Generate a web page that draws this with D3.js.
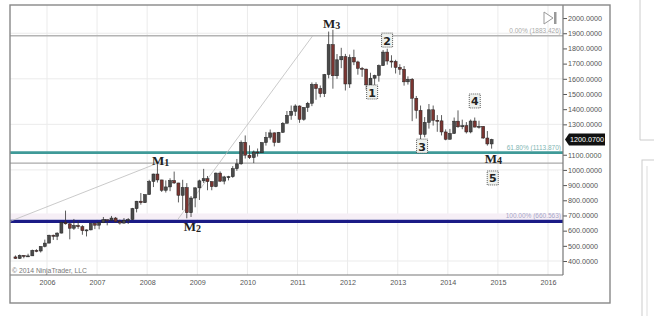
<!DOCTYPE html>
<html>
<head>
<meta charset="utf-8">
<script src="https://cdn.jsdelivr.net/npm/d3@7"></script>
<style>
  body { margin: 0; background: #fff; }
  svg { display: block; }
</style>
</head>
<body>
<svg width="654" height="316"></svg>
<script>
// monthly OHLC [open, high, low, close]
var gold2005 = [[427,437,414,417],[417,443,414,437],[437,439,418,430],[430,448,427,434],[434,475,433,470],[470,478,458,466],[466,497,456,496],[496,541,490,518]];
var gold2006 = [[518,573,517,570],[570,574,539,563],[563,589,538,584],[584,654,582,654],[654,732,640,645],[645,650,543,616],[616,677,605,634],[634,664,612,626],[626,636,573,600],[600,608,562,605],[605,649,602,648],[648,652,610,636]];
var gold2007 = [[636,655,609,652],[652,690,650,672],[672,672,635,669],[669,697,665,683],[683,690,653,659],[659,673,640,650],[650,683,646,669],[669,683,644,673],[673,750,671,745],[745,796,720,794],[794,848,771,784],[784,838,782,838]];
var gold2008 = [[838,935,836,924],[924,975,887,973],[973,1033,917,934],[934,935,855,866],[866,931,851,888],[888,945,860,930],[930,989,908,914],[914,915,786,833],[833,935,735,884],[884,913,681,718],[718,828,690,815],[815,885,754,882]];
var gold2009 = [[882,936,802,928],[928,1007,914,942],[942,960,866,923],[923,925,866,890],[890,983,886,979],[979,990,920,926],[926,961,905,954],[954,961,931,955],[955,1025,948,1008],[1008,1072,994,1040],[1040,1194,1034,1182],[1182,1227,1075,1097]];
var gold2010 = [[1097,1162,1072,1081],[1081,1128,1045,1118],[1118,1141,1088,1113],[1113,1182,1112,1180],[1180,1250,1160,1215],[1215,1266,1200,1244],[1244,1247,1155,1181],[1181,1250,1180,1248],[1248,1315,1243,1307],[1307,1388,1310,1359],[1359,1424,1330,1386],[1386,1432,1355,1421]];
var gold2011 = [[1421,1425,1310,1333],[1333,1414,1324,1411],[1411,1448,1382,1439],[1439,1576,1420,1563],[1563,1577,1462,1536],[1536,1556,1478,1502],[1502,1632,1480,1628],[1628,1911,1603,1825],[1825,1923,1535,1620],[1620,1763,1600,1725],[1725,1804,1670,1746],[1746,1764,1523,1566]];
var gold2012 = [[1566,1760,1540,1740],[1740,1792,1690,1711],[1711,1719,1627,1669],[1669,1678,1613,1664],[1664,1666,1527,1560],[1560,1640,1555,1604],[1604,1627,1560,1622],[1622,1694,1581,1687],[1687,1790,1685,1776],[1776,1798,1693,1717],[1717,1755,1673,1714],[1714,1725,1635,1675]];
var gold2013 = [[1675,1696,1626,1663],[1663,1684,1555,1580],[1580,1616,1562,1597],[1597,1605,1321,1472],[1472,1487,1338,1392],[1392,1424,1200,1234],[1234,1348,1215,1313],[1313,1434,1272,1396],[1396,1424,1292,1327],[1327,1361,1251,1323],[1323,1361,1227,1250],[1250,1267,1195,1202]];
var gold2014 = [[1202,1270,1200,1240],[1240,1345,1237,1321],[1321,1392,1277,1284],[1284,1331,1268,1291],[1291,1315,1240,1250],[1250,1332,1241,1322],[1322,1345,1280,1282],[1282,1324,1272,1287],[1287,1288,1205,1210],[1210,1256,1160,1171],[1171,1205,1140,1200.07]];
var firstMonth = "2005-05-01";

// 1200.0000 sits under the last-price marker, so it is not labelled
var yTicks = [2000, 1900, 1800, 1700, 1600, 1500, 1400, 1300, 1100, 1000, 900, 800, 700, 600, 500, 400];
var gridValues = [1900, 1600, 1300, 1000, 700, 400];
var xYears = [2006, 2007, 2008, 2009, 2010, 2011, 2012, 2013, 2014, 2015, 2016];
var lastPrice = 1200.07;

// fibonacci levels + the extra horizontal line
var fibLabels = ["0.00% (1883.426)", "61.80% (1113.870)", "100.00% (660.563)"];
var fibValues = [1883.426, 1113.870, 660.563];
var extraLine = 1045;

// thin drawing lines [date, price] -> [date, price]
var trendLines = [
    [["2005-04-05", 660.563], ["2008-02-20", 1035]],
    [["2008-08-10", 672], ["2011-04-22", 1883.426]]
];

// M labels [text, sub, date, price]
var mLabels = [
    ["M", "1", "2008-02-05", 1032],
    ["M", "2", "2008-09-24", 598],
    ["M", "3", "2011-07-05", 1934],
    ["M", "4", "2014-09-27", 1045]
];
// wave counts [label, date, price]
var waves = [
    ["1", "2012-06-28", 1513],
    ["2", "2012-10-15", 1855],
    ["3", "2013-06-27", 1157],
    ["4", "2014-07-16", 1454],
    ["5", "2014-11-24", 947]
];

var svg = d3.select("svg");
var parse = d3.timeParse("%Y-%m-%d");
var plot = { left: 10, right: 563, top: 5, bottom: 275 };

var candles = [].concat(gold2005, gold2006, gold2007, gold2008, gold2009, gold2010, gold2011, gold2012, gold2013, gold2014);
var months = d3.timeMonth.range(parse(firstMonth), d3.timeMonth.offset(parse(firstMonth), candles.length));
var data = candles.map(function (c, i) {
    return { date: d3.timeDay.offset(months[i], 15), open: c[0], high: c[1], low: c[2], close: c[3] };
});

var x = d3.scaleTime()
    .domain([new Date(2006, 0, 1), new Date(2016, 0, 1)])
    .range([47, 548]);
var y = d3.scaleLinear()
    .domain([308, 2086])
    .range([plot.bottom, plot.top]);

// side panels on the right edge
svg.append("path").attr("d", "M640,0V140H654").attr("fill", "none").attr("stroke", "#ccc");
svg.append("rect").attr("x", 642).attr("y", 160).attr("width", 20).attr("height", 170)
    .attr("fill", "none").attr("stroke", "#ccc");
svg.append("line").attr("x1", 647).attr("x2", 647).attr("y1", 166).attr("y2", 316).attr("stroke", "#ddd");

// grid
var grid = svg.append("g");
grid.selectAll(".vg").data(xYears).enter().append("line")
    .attr("x1", function (d) { return x(new Date(d, 0, 1)); })
    .attr("x2", function (d) { return x(new Date(d, 0, 1)); })
    .attr("y1", plot.top).attr("y2", plot.bottom)
    .attr("stroke", "#ebebeb");
grid.selectAll(".hg").data(gridValues).enter().append("line")
    .attr("x1", plot.left).attr("x2", plot.right)
    .attr("y1", function (d) { return y(d); })
    .attr("y2", function (d) { return y(d); })
    .attr("stroke", "#ebebeb");

// faint band above the 100% line
svg.append("rect").attr("x", plot.left).attr("width", plot.right - plot.left)
    .attr("y", y(fibValues[2]) - 8).attr("height", 6)
    .attr("fill", "#f6eff6");

// horizontal levels
svg.append("line").attr("x1", plot.left).attr("x2", plot.right)
    .attr("y1", y(extraLine)).attr("y2", y(extraLine))
    .attr("stroke", "#aaa").attr("stroke-width", 1.2);
svg.append("line").attr("x1", plot.left).attr("x2", plot.right)
    .attr("y1", y(fibValues[0])).attr("y2", y(fibValues[0]))
    .attr("stroke", "#b4b4b4").attr("stroke-width", 1.3);
svg.append("line").attr("x1", plot.left).attr("x2", plot.right)
    .attr("y1", y(fibValues[1])).attr("y2", y(fibValues[1]))
    .attr("stroke", "#3f9a98").attr("stroke-width", 2.6);
svg.append("line").attr("x1", plot.left).attr("x2", plot.right)
    .attr("y1", y(fibValues[2])).attr("y2", y(fibValues[2]))
    .attr("stroke", "#1b1b86").attr("stroke-width", 3.2);

var fibColors = ["#aaa", "#7fb6b4", "#a6a6c8"];
svg.selectAll(".fibtxt").data(fibLabels).enter().append("text")
    .attr("x", plot.right - 2)
    .attr("y", function (d, i) { return y(fibValues[i]) - 3; })
    .attr("text-anchor", "end")
    .attr("font-family", "Liberation Sans, Arial, sans-serif")
    .attr("font-size", 6.5)
    .attr("fill", function (d, i) { return fibColors[i]; })
    .text(function (d) { return d; });

// drawing lines
svg.selectAll(".trend").data(trendLines).enter().append("line")
    .attr("x1", function (d) { return x(parse(d[0][0])); })
    .attr("y1", function (d) { return y(d[0][1]); })
    .attr("x2", function (d) { return x(parse(d[1][0])); })
    .attr("y2", function (d) { return y(d[1][1]); })
    .attr("stroke", "#bdbdbd").attr("stroke-width", 0.8);

// candles
var bw = 3;
var cg = svg.append("g");
cg.selectAll(".wick").data(data).enter().append("line")
    .attr("x1", function (d) { return x(d.date); })
    .attr("x2", function (d) { return x(d.date); })
    .attr("y1", function (d) { return y(d.high); })
    .attr("y2", function (d) { return y(d.low); })
    .attr("stroke", "#333").attr("stroke-width", 0.8);
cg.selectAll(".body").data(data).enter().append("rect")
    .attr("x", function (d) { return x(d.date) - bw / 2; })
    .attr("width", bw)
    .attr("y", function (d) { return y(Math.max(d.open, d.close)); })
    .attr("height", function (d) { return Math.max(1, Math.abs(y(d.open) - y(d.close))); })
    .attr("fill", function (d) { return d.close >= d.open ? "#4a4a4a" : "#7a3430"; })
    .attr("stroke", "#222").attr("stroke-width", 0.5);

// M labels
var mg = svg.selectAll(".mlab").data(mLabels).enter().append("text")
    .attr("x", function (d) { return x(parse(d[2])); })
    .attr("y", function (d) { return y(d[3]); })
    .attr("font-family", "Liberation Serif, Times New Roman, serif")
    .attr("font-weight", "bold")
    .attr("font-size", 13)
    .attr("fill", "#222");
mg.append("tspan").text(function (d) { return d[0]; });
mg.append("tspan").attr("font-size", 10).attr("dy", 1).text(function (d) { return d[1]; });

// wave count boxes
var wg = svg.selectAll(".wave").data(waves).enter().append("g")
    .attr("transform", function (d) { return "translate(" + x(parse(d[1])) + "," + y(d[2]) + ")"; });
wg.append("rect").attr("x", -5.5).attr("y", -7).attr("width", 11).attr("height", 14)
    .attr("fill", "#eef1ee").attr("stroke", "#333").attr("stroke-width", 0.8)
    .attr("stroke-dasharray", "1,1");
wg.append("text").attr("text-anchor", "middle").attr("y", 4.5)
    .attr("font-family", "DejaVu Sans, sans-serif")
    .attr("font-weight", "bold").attr("font-size", 11).attr("fill", "#222")
    .text(function (d) { return d[0]; });

// axes
var yAxis = d3.axisRight(y).tickValues(yTicks).tickSize(4).tickPadding(1)
    .tickFormat(function (d) { return d3.format(".4f")(d); });
var ya = svg.append("g").attr("transform", "translate(" + plot.right + ",0)").call(yAxis);
ya.select(".domain").remove();
ya.selectAll("line").attr("stroke", "#555");
ya.selectAll("text").attr("font-family", "Liberation Sans, Arial, sans-serif")
    .attr("font-size", 7.2).attr("fill", "#555");

var xAxis = d3.axisBottom(x).tickValues(xYears.map(function (d) { return new Date(d, 0, 1); }))
    .tickSize(0).tickPadding(5).tickFormat(d3.timeFormat("%Y"));
var xa = svg.append("g").attr("transform", "translate(0," + plot.bottom + ")").call(xAxis);
xa.select(".domain").remove();
xa.selectAll("text").attr("font-family", "Liberation Sans, Arial, sans-serif")
    .attr("font-size", 7.2).attr("fill", "#555");

// frames
svg.append("line").attr("x1", plot.left).attr("x2", plot.right)
    .attr("y1", plot.bottom).attr("y2", plot.bottom).attr("stroke", "#777").attr("stroke-width", 1.2);
svg.append("line").attr("x1", plot.right).attr("x2", plot.right)
    .attr("y1", plot.top).attr("y2", plot.bottom).attr("stroke", "#777").attr("stroke-width", 1.2);
svg.append("rect").attr("x", 10).attr("y", 5).attr("width", 600).attr("height", 298)
    .attr("fill", "none").attr("stroke", "#888").attr("stroke-width", 1.4);

// last price marker
var py = y(lastPrice);
svg.append("path")
    .attr("d", "M" + (plot.right + 2) + "," + py + "l4,-6h36v12h-36z")
    .attr("fill", "#111");
svg.append("text").attr("x", plot.right + 7).attr("y", py + 2.5)
    .attr("font-family", "Liberation Sans, Arial, sans-serif")
    .attr("font-size", 7.2).attr("fill", "#fff")
    .text(d3.format(".4f")(lastPrice));

// scroll-to-end icon
svg.append("path").attr("d", "M544,12L553,18L544,24Z").attr("fill", "#fff").attr("stroke", "#999");
svg.append("rect").attr("x", 554).attr("y", 12).attr("width", 2.5).attr("height", 12).attr("fill", "#999");

// copyright
svg.append("text").attr("x", 12).attr("y", 273)
    .attr("font-family", "Liberation Sans, Arial, sans-serif")
    .attr("font-size", 6.8).attr("fill", "#777")
    .text("\u00a9 2014 NinjaTrader, LLC");
</script>
</body>
</html>
